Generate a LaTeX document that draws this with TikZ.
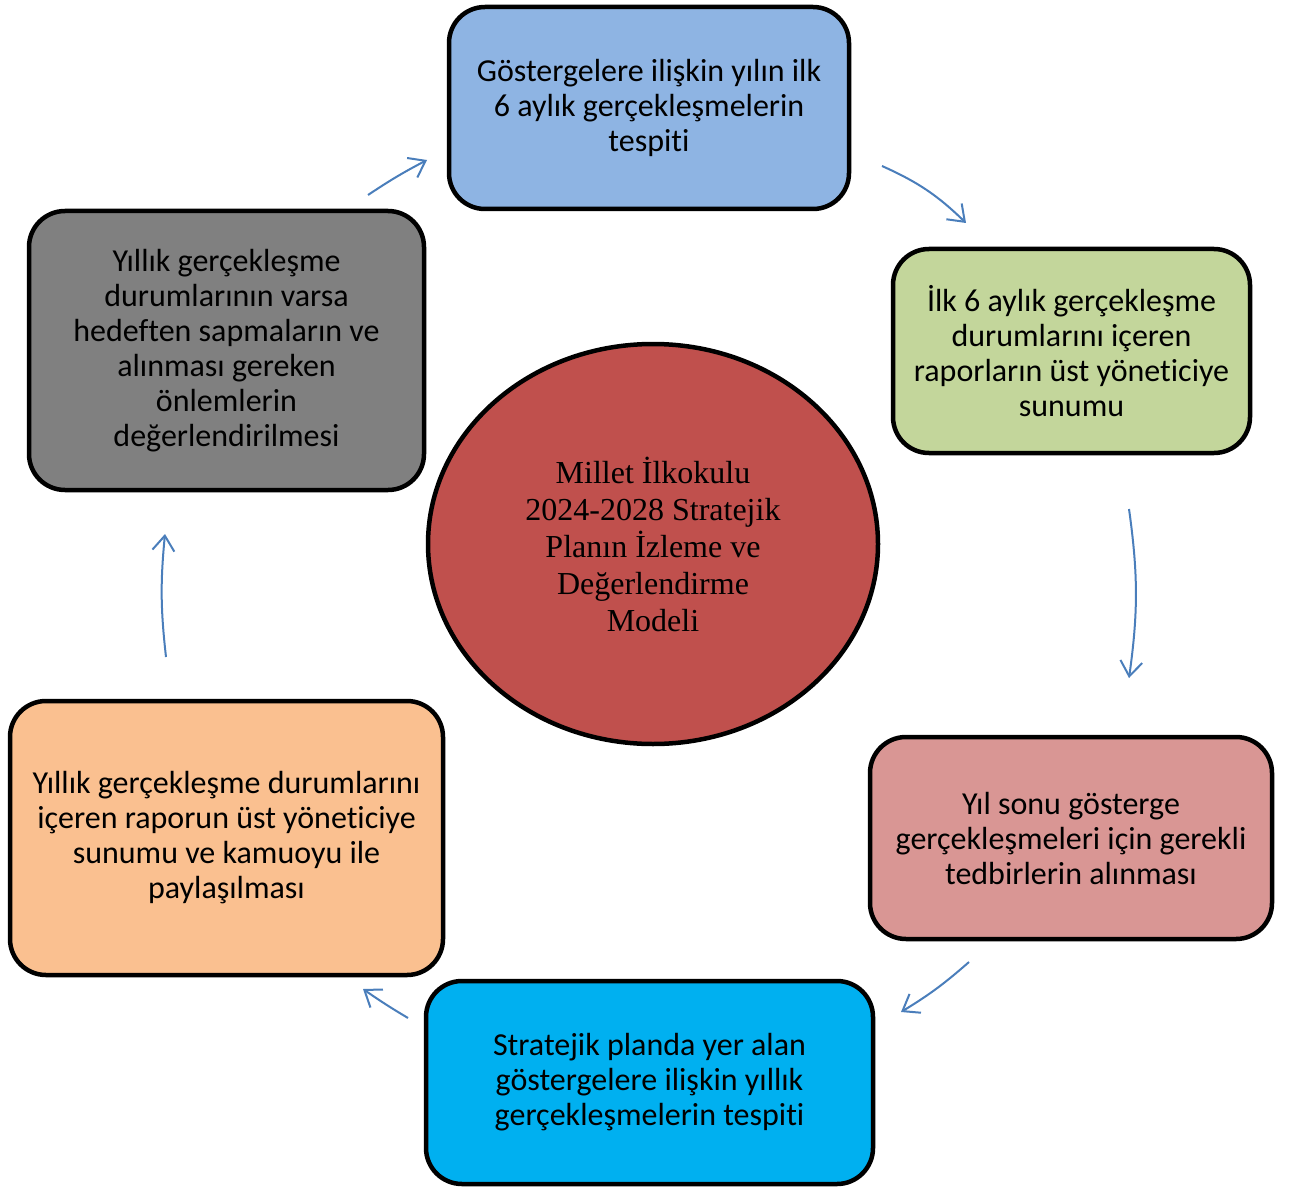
\documentclass[tikz,border=0pt]{standalone}
\usepackage{fontspec}
\setmainfont{Carlito}[Ligatures=NoCommon]
\newfontfamily\serifcirc{Liberation Serif}
\usetikzlibrary{arrows.meta,shapes.geometric}
\definecolor{cblue}{HTML}{8EB4E3}
\definecolor{cgreen}{HTML}{C3D69B}
\definecolor{cpink}{HTML}{D99694}
\definecolor{ccyan}{HTML}{00B0F0}
\definecolor{corange}{HTML}{FAC090}
\definecolor{cgray}{HTML}{808080}
\definecolor{cred}{HTML}{C0504D}
\definecolor{carrow}{HTML}{4A7EBB}
\tikzset{
  stagebox/.style={draw=black, line width=4.5pt, rounded corners=36pt, align=center,
    font=\fontsize{32}{35}\selectfont, inner sep=0pt},
  cyclearrow/.style={draw=carrow, line width=2pt,
    -{Straight Barb[length=15pt,width=22pt,line width=2pt]}},
}
\begin{document}
\begin{tikzpicture}[x=1pt,y=-1pt]
\useasboundingbox (0,0) rectangle (1295,1190);
\node[stagebox, fill=cblue, minimum width=400pt, minimum height=202pt] (n1) at (649,108)
  {Göstergelere ilişkin yılın ilk\\6 aylık gerçekleşmelerin\\tespiti};
\node[stagebox, fill=cgreen, minimum width=357pt, minimum height=204pt] (n2) at (1071.5,351)
  {İlk 6 aylık gerçekleşme\\durumlarını içeren\\raporların üst yöneticiye\\sunumu};
\node[stagebox, fill=cpink, minimum width=402pt, minimum height=202pt] (n3) at (1071,838)
  {Yıl sonu gösterge\\gerçekleşmeleri için gerekli\\tedbirlerin alınması};
\node[stagebox, fill=ccyan, minimum width=447pt, minimum height=203pt] (n4) at (649.5,1082.5)
  {Stratejik planda yer alan\\göstergelere ilişkin yıllık\\gerçekleşmelerin tespiti};
\node[stagebox, fill=corange, minimum width=433pt, minimum height=274pt] (n5) at (226.5,838)
  {Yıllık gerçekleşme durumlarını\\içeren raporun üst yöneticiye\\sunumu ve kamuoyu ile\\paylaşılması};
\node[stagebox, fill=cgray, minimum width=395pt, minimum height=279pt] (n6) at (226.5,350.5)
  {Yıllık gerçekleşme\\durumlarının varsa\\hedeften sapmaların ve\\alınması gereken\\önlemlerin\\değerlendirilmesi};
\node[ellipse, draw=black, line width=4.5pt, fill=cred, minimum width=450pt, minimum height=400pt,
  inner sep=0pt, align=center, font=\serifcirc\fontsize{32}{37}\selectfont] (c) at (653,544)
  {Millet İlkokulu\\2024-2028 Stratejik\\Planın İzleme ve\\Değerlendirme\\Modeli};
\coordinate (a1s) at (368,195); \coordinate (a1e) at (427,160);
\coordinate (a2s) at (882,166); \coordinate (a2e) at (966,223);
\coordinate (a3s) at (1129,509); \coordinate (a3e) at (1129,678);
\coordinate (a4s) at (969,962); \coordinate (a4e) at (901,1012);
\coordinate (a5s) at (408,1018); \coordinate (a5e) at (363,989);
\coordinate (a6s) at (166,657); \coordinate (a6e) at (165,534);
\draw[cyclearrow] (a1s) to[bend left=3] (a1e);
\draw[cyclearrow] (a2s) to[bend left=10] (a2e);
\draw[cyclearrow] (a3s) to[bend left=8] (a3e);
\draw[cyclearrow] (a4s) to[bend left=5] (a4e);
\draw[cyclearrow] (a5s) to[bend left=2] (a5e);
\draw[cyclearrow] (a6s) to[bend left=6] (a6e);
\end{tikzpicture}
\end{document}
